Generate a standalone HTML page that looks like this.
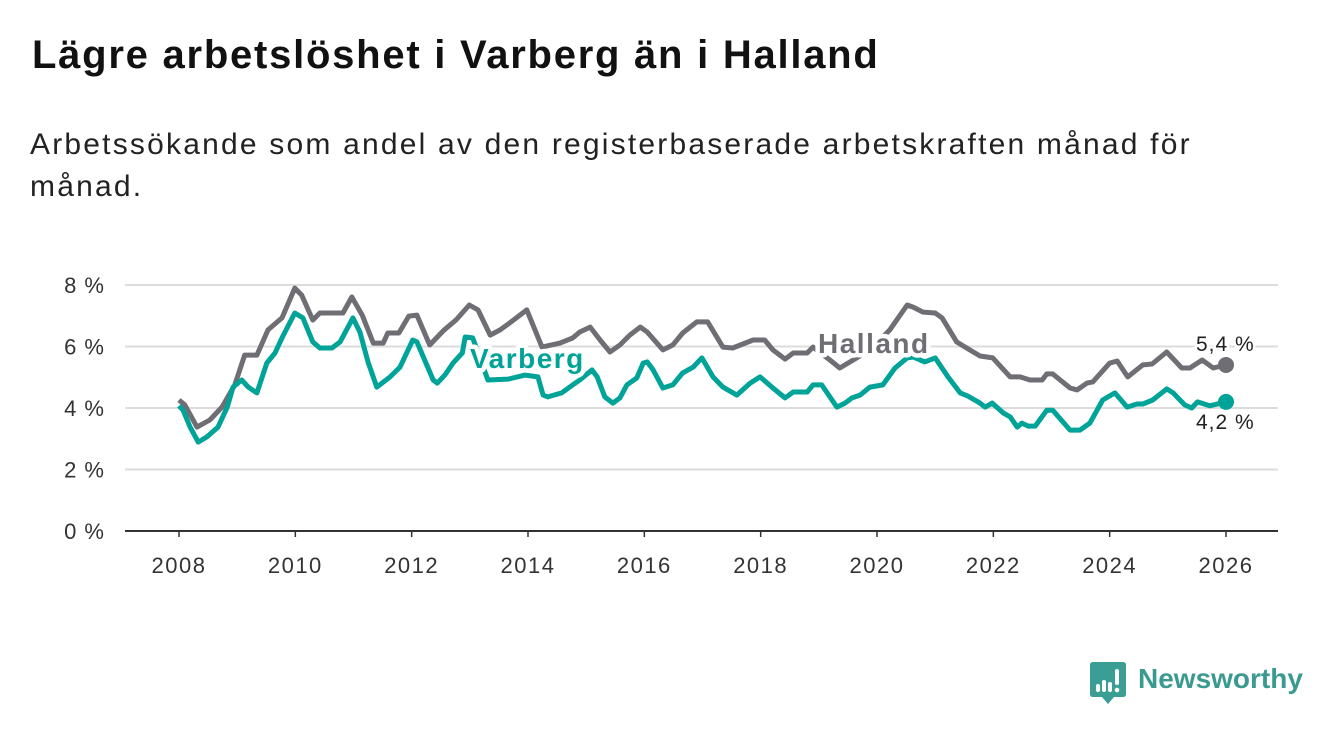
<!DOCTYPE html>
<html><head><meta charset="utf-8">
<style>
body{margin:0;width:1340px;height:734px;background:#fff;font-family:"Liberation Sans",sans-serif;overflow:hidden;position:relative}
h1{position:absolute;left:32px;top:33px;margin:0;font-size:40px;font-weight:bold;color:#111;letter-spacing:1.75px}
.sub{position:absolute;left:30px;top:124px;margin:0;font-size:30px;line-height:42px;color:#222;letter-spacing:2.2px;white-space:nowrap}
svg{position:absolute;left:0;top:0}
</style></head><body>
<h1>Lägre arbetslöshet i Varberg än i Halland</h1>
<p class="sub">Arbetssökande som andel av den registerbaserade arbetskraften månad för<br>månad.</p>
<svg id="chart" width="1340" height="734"></svg>
<script>
const yTicks=[0,2,4,6,8];
const xTicks=[2008,2010,2012,2014,2016,2018,2020,2022,2024,2026];
const hallandYears=[2008.00,2008.10,2008.31,2008.53,2008.74,2008.96,2009.13,2009.34,2009.53,2009.77,2009.99,2010.11,2010.30,2010.42,2010.82,2010.97,2011.15,2011.34,2011.51,2011.59,2011.78,2011.95,2012.09,2012.31,2012.56,2012.76,2012.99,2013.14,2013.35,2013.52,2013.71,2013.98,2014.24,2014.55,2014.77,2014.89,2015.07,2015.24,2015.41,2015.58,2015.75,2015.93,2016.05,2016.32,2016.49,2016.66,2016.90,2017.09,2017.35,2017.52,2017.87,2018.07,2018.21,2018.42,2018.56,2018.80,2018.90,2019.19,2019.36,2019.59,2019.88,2020.22,2020.52,2020.62,2020.79,2021.00,2021.12,2021.37,2021.48,2021.77,2021.99,2022.29,2022.46,2022.63,2022.84,2022.92,2023.02,2023.32,2023.44,2023.61,2023.71,2024.00,2024.13,2024.31,2024.57,2024.73,2024.98,2025.24,2025.38,2025.59,2025.78,2026.00];
const hallandValues=[4.26,4.10,3.38,3.61,4.03,4.75,5.72,5.72,6.54,6.93,7.90,7.67,6.86,7.09,7.09,7.61,7.02,6.11,6.11,6.44,6.44,6.99,7.02,6.05,6.54,6.86,7.35,7.19,6.37,6.54,6.80,7.19,5.98,6.11,6.28,6.47,6.63,6.21,5.82,6.05,6.37,6.63,6.47,5.89,6.05,6.44,6.80,6.80,5.98,5.95,6.21,6.21,5.89,5.59,5.79,5.79,5.98,5.56,5.30,5.56,5.89,6.54,7.35,7.28,7.12,7.09,6.93,6.15,6.02,5.69,5.63,5.01,5.01,4.91,4.91,5.11,5.11,4.65,4.59,4.81,4.85,5.46,5.53,5.01,5.40,5.43,5.82,5.30,5.30,5.56,5.30,5.40];
const varbergYears=[2008.00,2008.07,2008.19,2008.33,2008.48,2008.67,2008.83,2008.93,2009.08,2009.19,2009.34,2009.51,2009.65,2009.77,2009.99,2010.13,2010.30,2010.42,2010.63,2010.77,2010.99,2011.11,2011.25,2011.40,2011.63,2011.80,2012.02,2012.09,2012.37,2012.44,2012.57,2012.71,2012.87,2012.92,2013.05,2013.31,2013.66,2013.95,2014.17,2014.26,2014.34,2014.58,2014.77,2014.89,2015.10,2015.19,2015.32,2015.46,2015.58,2015.70,2015.87,2015.98,2016.05,2016.15,2016.32,2016.49,2016.66,2016.84,2016.99,2017.18,2017.35,2017.59,2017.82,2017.99,2018.21,2018.42,2018.56,2018.80,2018.90,2019.05,2019.31,2019.45,2019.57,2019.71,2019.88,2020.10,2020.31,2020.52,2020.62,2020.82,2021.00,2021.22,2021.43,2021.56,2021.77,2021.86,2021.98,2022.17,2022.29,2022.41,2022.49,2022.60,2022.72,2022.92,2023.02,2023.20,2023.32,2023.49,2023.66,2023.88,2024.09,2024.30,2024.47,2024.57,2024.74,2024.98,2025.09,2025.29,2025.41,2025.51,2025.72,2026.00];
const varbergValues=[4.07,3.93,3.38,2.89,3.06,3.38,4.03,4.68,4.91,4.68,4.49,5.46,5.79,6.28,7.09,6.93,6.15,5.95,5.95,6.15,6.93,6.47,5.50,4.68,5.01,5.33,6.21,6.15,4.91,4.81,5.07,5.46,5.79,6.31,6.28,4.91,4.94,5.07,5.01,4.42,4.36,4.49,4.75,4.91,5.24,5.01,4.36,4.16,4.33,4.75,4.98,5.46,5.50,5.24,4.65,4.75,5.14,5.33,5.63,5.01,4.68,4.42,4.81,5.01,4.65,4.33,4.52,4.52,4.75,4.75,4.03,4.16,4.33,4.42,4.68,4.75,5.30,5.63,5.66,5.50,5.63,5.01,4.49,4.39,4.16,4.03,4.16,3.84,3.71,3.38,3.51,3.41,3.41,3.93,3.93,3.54,3.28,3.28,3.51,4.26,4.49,4.03,4.13,4.13,4.26,4.62,4.49,4.10,4.00,4.20,4.07,4.20];

const NS='http://www.w3.org/2000/svg';
const svg=document.getElementById('chart');
const X0=125,X1=1278;
const xs=y=>179+(y-2008)*(1226-179)/18;
const ys=v=>531-v*(531-285)/8;
function mk(t,a){const e=document.createElementNS(NS,t);for(const k in a)e.setAttribute(k,a[k]);svg.appendChild(e);return e;}
yTicks.forEach(t=>{
  const g=mk('line',{x1:X0,x2:X1,y1:ys(t),y2:ys(t),stroke:t===0?'#333':'#dcdcdc','stroke-width':2});
  
  
  const l=mk('text',{x:105,y:ys(t)+8,'text-anchor':'end','font-size':22,'letter-spacing':1,fill:'#333','font-family':'Liberation Sans, sans-serif'});
  l.textContent=t+' %';
  
  
});
xTicks.forEach(t=>{
  const k=mk('line',{x1:xs(t),x2:xs(t),y1:531,y2:537,stroke:'#333','stroke-width':1.5});
  
  
  const l=mk('text',{x:xs(t),y:573,'text-anchor':'middle','font-size':22,'letter-spacing':1.5,fill:'#333','font-family':'Liberation Sans, sans-serif'});
  l.textContent=t;
  
  
});
function line(yrs,vals,col,name){
  const d=yrs.map((y,i)=>(i?'L':'M')+xs(y).toFixed(1)+','+ys(vals[i]).toFixed(1)).join('');
  const p=mk('path',{d:d,fill:'none',stroke:col,'stroke-width':5,'stroke-linejoin':'round'});
  
  
  const c=mk('circle',{cx:xs(yrs[yrs.length-1]),cy:ys(vals[vals.length-1]),r:8,fill:col});
  
  
}
line(hallandYears,hallandValues,'#6f6e74','halland-line');
line(varbergYears,varbergValues,'#00a398','varberg-line');
function lab(x,y,txt,col,size,bold,ls,name){
  const t=mk('text',{x:x,y:y,'font-size':size,'font-weight':bold?'bold':'normal','letter-spacing':ls,fill:col,stroke:'#fff','stroke-width':bold?9:5,'paint-order':'stroke','stroke-linejoin':'round','font-family':'Liberation Sans, sans-serif'});
  t.textContent=txt;
  
  
}
lab(470,368,'Varberg','#00a398',28,true,1.5,'varberg-label');
lab(818,353,'Halland','#6f6e74',28,true,1.5,'halland-label');
lab(1196,351,'5,4 %','#222',21,false,1,'halland-end-value');
lab(1196,429,'4,2 %','#222',21,false,1,'varberg-end-value');
</script>
<div style="position:absolute;left:1090px;top:662px;display:flex;align-items:center">
<svg width="36" height="42" viewBox="0 0 36 42" style="position:static">
<path d="M3 0H33Q36 0 36 3V32Q36 35 33 35H24L18 42L12 35H3Q0 35 0 32V3Q0 0 3 0Z" fill="#3a9e94"/>
<rect x="6" y="22" width="4" height="8" rx="2" fill="#fff"/><rect x="12" y="18" width="4" height="12" rx="2" fill="#fff"/><rect x="18" y="20" width="4" height="10" rx="2" fill="#fff"/><rect x="25" y="7" width="4" height="16" rx="2" fill="#fff"/><circle cx="27" cy="28" r="2.3" fill="#fff"/>
</svg>
<span style="margin-left:12px;font-size:28px;color:#3a9a90;font-weight:bold;margin-top:-8px">Newsworthy</span>
</div>
</body></html>
